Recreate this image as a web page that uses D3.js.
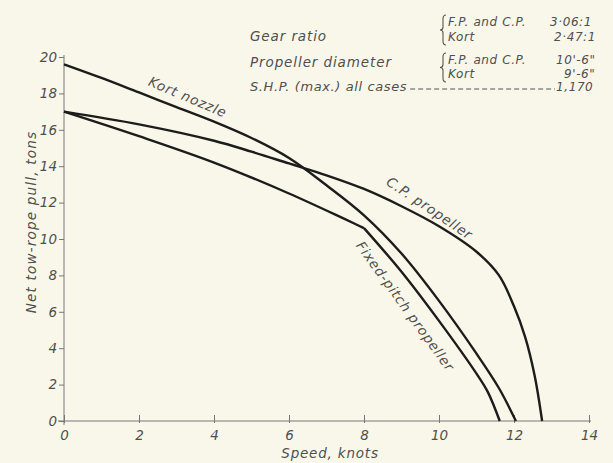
<!DOCTYPE html>
<html><head><meta charset="utf-8">
<script src="https://cdn.jsdelivr.net/npm/d3@7"></script>
<style>
html,body{margin:0;padding:0;background:#f9f7ea;}
svg{display:block;}
text{font-family:"DejaVu Sans",sans-serif;font-style:italic;fill:#4f4f4f;}
</style></head>
<body>
<script>
// ---- data ----
const xTicks = [0, 2, 4, 6, 8, 10, 12, 14];
const yTicks = [0, 2, 4, 6, 8, 10, 12, 14, 16, 18, 20];
const kortSpeed = [0, 1, 2, 3, 4, 5, 6, 7, 8, 9, 10, 11, 11.6, 12.05];
const kortPull  = [19.6, 18.85, 18.05, 17.25, 16.45, 15.55, 14.45, 12.95, 11.3, 9.2, 6.6, 3.7, 1.8, 0];
const cpSpeed = [0, 2, 4, 5, 6, 7, 8, 9, 10, 11, 11.6, 12, 12.3, 12.55, 12.75];
const cpPull  = [17.0, 16.3, 15.4, 14.8, 14.15, 13.5, 12.75, 11.8, 10.7, 9.3, 8.0, 6.3, 4.6, 2.5, 0];
const fpSpeed = [0, 2, 4, 6, 8, 9, 10, 11, 11.3, 11.62];
const fpPull  = [17.0, 15.65, 14.2, 12.5, 10.6, 8.2, 5.5, 2.6, 1.6, 0];
const fpKink = 8;
const curveLabels = ["Kort nozzle", "C.P. propeller", "Fixed-pitch propeller"];
const labelAt = [[3.3, 17.8], [9.75, 11.7], [9.1, 6.3]];
const labelAngle = [23, 34, 54];
const xTitle = "Speed, knots";
const yTitle = "Net tow-rope pull, tons";
const noteRows = ["Gear ratio", "Propeller diameter", "S.H.P. (max.) all cases"];
const noteSub = ["F.P. and C.P.", "Kort", "F.P. and C.P.", "Kort"];
const noteVals = ["3·06:1", "2·47:1", "10'-6\"", "9'-6\""];
const shpVal = "1,170";

// ---- drawing ----
const W = 613, H = 463;
const svg = d3.select("body").append("svg").attr("width", W).attr("height", H);
const x = d3.scaleLinear().domain([0, 14]).range([64, 589]);
const y = d3.scaleLinear().domain([0, 20]).range([421, 57]);
const ink = "#1c1c1c", axisInk = "#777";
const tickFont = s => s.attr("font-size", 13.5).attr("fill", "#5a5a5a")
  .style("font-family", '"DejaVu Sans",sans-serif').style("font-style", "italic");

// axes
const yAxis = d3.axisLeft(y).tickValues(yTicks).tickSize(5).tickPadding(2).tickFormat(d3.format("d"));
const gy = svg.append("g").attr("transform", `translate(${x(0)},0)`).call(yAxis);
gy.select(".domain").attr("stroke", axisInk).attr("stroke-width", 1).attr("d", `M0,${y(20) - 2}V${y(0) + 4}`);
gy.selectAll(".tick line").attr("stroke", axisInk);
gy.selectAll(".tick text").call(tickFont);

const xAxis = d3.axisBottom(x).tickValues(xTicks).tickSize(-6).tickPadding(8).tickFormat(d3.format("d"));
const gx = svg.append("g").attr("transform", `translate(0,${y(0)})`).call(xAxis);
gx.select(".domain").attr("stroke", axisInk).attr("stroke-width", 1).attr("d", `M${x(0) - 6},0H${x(14) + 2}`);
gx.selectAll(".tick line").attr("stroke", axisInk).attr("y2", -6).attr("y1", 2);
gx.selectAll(".tick text").call(tickFont).attr("dy", "0.8em");

// curves
const line = d3.line().x(d => x(d[0])).y(d => y(d[1])).curve(d3.curveCatmullRom.alpha(0.5));
const zip = (a, b) => a.map((v, i) => [v, b[i]]);
const kort = zip(kortSpeed, kortPull);
const cp = zip(cpSpeed, cpPull);
const fp = zip(fpSpeed, fpPull);
function drawCurve(data) {
  svg.append("path").attr("d", line(data)).attr("fill", "none").attr("stroke", ink)
    .attr("stroke-width", 2.4).attr("stroke-linejoin", "round");
}
drawCurve(kort);
drawCurve(cp);
drawCurve(fp.filter(d => d[0] <= fpKink));
drawCurve(fp.filter(d => d[0] >= fpKink));

// curve labels
curveLabels.forEach((t, i) => {
  svg.append("text").attr("transform", `translate(${x(labelAt[i][0])},${y(labelAt[i][1])}) rotate(${labelAngle[i]})`)
    .attr("text-anchor", "middle").attr("dy", "0.35em").attr("font-size", 13.5)
    .attr("letter-spacing", 0.8).attr("fill", "#444").text(t);
});

// titles
svg.append("text").attr("x", 330).attr("y", 458).attr("text-anchor", "middle").attr("font-size", 13.5)
  .attr("letter-spacing", 0.8).text(xTitle);
svg.append("text").attr("transform", "translate(36,222) rotate(-90)").attr("text-anchor", "middle")
  .attr("font-size", 13.5).attr("letter-spacing", 1.2).text(yTitle);

// note block
const note = (t, xx, yy, fs, ls) => svg.append("text").attr("x", xx).attr("y", yy).attr("font-size", fs)
  .attr("letter-spacing", ls).text(t);
note(noteRows[0], 250, 41, 13.5, 0.9);
note(noteRows[1], 250, 67, 13.5, 0.9);
const shpText = note(noteRows[2], 250, 91, 13, 0.6);
const subY = [26, 41, 64, 78];
noteSub.forEach((t, i) => note(t, 448, subY[i], 12, 0.6));
const valX = [550, 554, 556, 564];
noteVals.forEach((t, i) => note(t, valX[i], subY[i], 12, 0.6));
// braces
[[15, 45], [53, 82]].forEach(([a, b]) => {
  const m = (a + b) / 2, bx = 443;
  svg.append("path").attr("d", `M${bx + 3},${a} Q${bx},${a} ${bx},${a + 4} V${m - 3} Q${bx},${m} ${bx - 3},${m} Q${bx},${m} ${bx},${m + 3} V${b - 4} Q${bx},${b} ${bx + 3},${b}`)
    .attr("fill", "none").attr("stroke", "#555").attr("stroke-width", 1.1);
});
const shpEnd = 250 + shpText.node().getComputedTextLength() + 3;
const valStart = 556;
svg.append("line").attr("x1", shpEnd).attr("x2", valStart - 1).attr("y1", 89).attr("y2", 89)
  .attr("stroke", "#555").attr("stroke-width", 1.1).attr("stroke-dasharray", "5,3");
note(shpVal, valStart, 91, 12, 0.6);
</script>
</body></html>
